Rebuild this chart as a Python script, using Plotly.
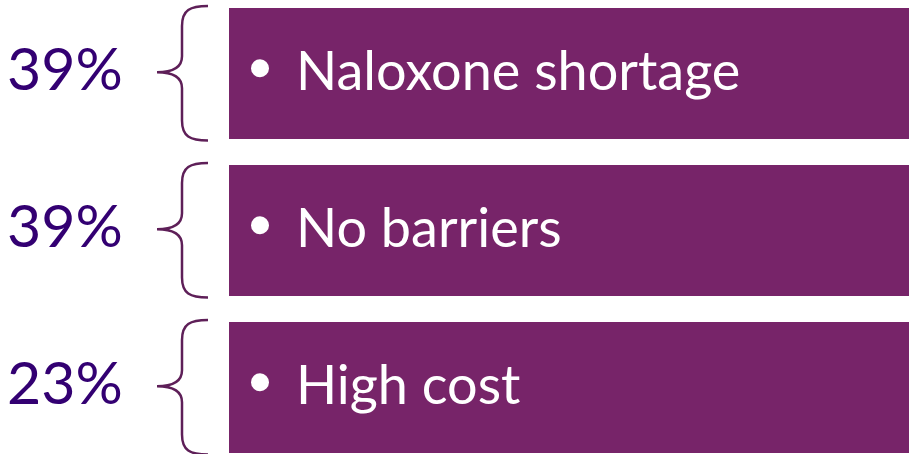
import plotly.graph_objects as go

# ---- data ----
categories = ["Naloxone shortage", "No barriers", "High cost"]
percents = [39, 39, 23]
percent_labels = [f"{p}%" for p in percents]

# ---- layout constants ----
W, H = 909, 454
box_left, box_right = 229, 909
row_top0, row_step, row_h = 8, 157, 130.5
box_color = "#772469"
brace_color = "#5e1f58"
pct_color = "#330072"
FONT = "Lato"

fig = go.Figure()

tops = [row_top0 + i * row_step for i in range(len(categories))]
centers = [t + row_h / 2 for t in tops]

# boxes as horizontal bars
fig.add_trace(go.Bar(
    orientation="h",
    y=centers,
    x=[box_right - box_left] * len(categories),
    base=box_left,
    width=row_h,
    marker=dict(color=box_color, line=dict(width=0)),
    hoverinfo="skip",
    showlegend=False,
))

# bullets
fig.add_trace(go.Scatter(
    x=[260] * len(categories),
    y=[c - 5 for c in centers],
    mode="markers",
    marker=dict(size=18, color="white", line=dict(width=0)),
    hoverinfo="skip",
    showlegend=False,
))

shapes = []
annotations = []
for i, (cat, lab) in enumerate(zip(categories, percent_labels)):
    t = tops[i] - 2
    b = tops[i] + row_h + 2
    m = (t + b) / 2 - 1
    xe, xv, xt = 208, 182, 157
    path = (f"M {xe},{t} C {xv+8},{t} {xv},{t+4} {xv},{t+20} "
            f"L {xv},{m-16} C {xv},{m-4} {xv-10},{m} {xt},{m} "
            f"C {xv-10},{m} {xv},{m+4} {xv},{m+16} "
            f"L {xv},{b-20} C {xv},{b-4} {xv+8},{b} {xe},{b}")
    shapes.append(dict(type="path", path=path, xref="x", yref="y",
                       line=dict(color=brace_color, width=2.5)))
    annotations.append(dict(
        x=294, y=centers[i] - 4, xref="x", yref="y", xanchor="left", yanchor="middle",
        text=cat, showarrow=False,
        font=dict(family=FONT, size=54, color="white"),
    ))
    annotations.append(dict(
        x=5, y=centers[i] - 6, xref="x", yref="y", xanchor="left", yanchor="middle",
        text=lab, showarrow=False,
        font=dict(family=FONT, size=59, color=pct_color),
    ))

fig.update_layout(
    width=W, height=H,
    margin=dict(l=0, r=0, t=0, b=0),
    paper_bgcolor="white", plot_bgcolor="white",
    xaxis=dict(range=[0, W], visible=False, fixedrange=True),
    yaxis=dict(range=[H, 0], visible=False, fixedrange=True),
    shapes=shapes,
    annotations=annotations,
    bargap=0,
)

fig.write_html("out.html", config={"displayModeBar": False})

# remove default page margin so the figure fills the window exactly
with open("out.html", "r", encoding="utf-8") as f:
    html = f.read()
html = html.replace("<body>", '<body style="margin:0;padding:0;overflow:hidden">', 1)
with open("out.html", "w", encoding="utf-8") as f:
    f.write(html)
